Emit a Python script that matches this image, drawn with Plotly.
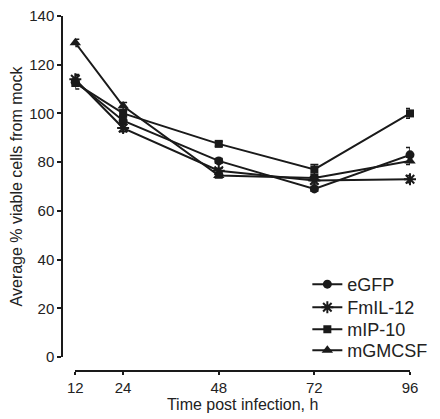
import plotly.graph_objects as go

hours = [12, 24, 48, 72, 96]
egfp = [113, 97, 80.5, 69, 83]
egfp_err = [3, 1.5, 1, 1, 3]
fmil12 = [114, 94, 76.5, 72.5, 73]
fmil12_err = [1.5, 1.5, 1, 1.5, 1.5]
mip10 = [112.5, 100, 87.5, 77, 100]
mip10_err = [1, 1, 1, 2, 2]
mgmcsf = [129, 103, 74.5, 73.5, 80.5]
mgmcsf_err = [1.5, 1.5, 1, 1, 1.5]

series = [
    ("eGFP", egfp, egfp_err, "circle", 9),
    ("FmIL-12", fmil12, fmil12_err, "asterisk-open", 10),
    ("mIP-10", mip10, mip10_err, "square", 8),
    ("mGMCSF", mgmcsf, mgmcsf_err, "triangle-up", 10),
]
legend_ids = ["legend", "legend2", "legend3", "legend4"]
legend_y = [0.2958, 0.2310, 0.1690, 0.1099]

ink = "#1a1a1a"
fig = go.Figure()
for (name, vals, errs, sym, size), lid in zip(series, legend_ids):
    fig.add_trace(go.Scatter(
        x=hours, y=vals, name=name, mode="lines+markers",
        line=dict(color=ink, width=2),
        marker=dict(symbol=sym, size=size, color=ink, line=dict(color=ink, width=2 if "asterisk" in sym else 0)),
        error_y=dict(type="data", array=errs, visible=True, color=ink, thickness=1.5, width=4),
        cliponaxis=False, legend=lid,
    ))

font = dict(family="Liberation Sans, Arial, sans-serif", size=15, color="#222")
legend_style = dict(x=0.705, xanchor="left", yanchor="top",
                    font=dict(size=18, color="#222"), bgcolor="rgba(0,0,0,0)",
                    itemwidth=30)
fig.update_layout(
    width=432, height=411,
    margin=dict(l=54, r=12, t=8, b=48),
    paper_bgcolor="white", plot_bgcolor="white",
    font=font,
    showlegend=True,
    legend=dict(legend_style, y=legend_y[0]),
    legend2=dict(legend_style, y=legend_y[1]),
    legend3=dict(legend_style, y=legend_y[2]),
    legend4=dict(legend_style, y=legend_y[3]),
    xaxis=dict(
        domain=[14/366, 1], anchor="free", position=0, automargin=False,
        range=[12, 96], tickvals=hours, ticktext=[str(h) for h in hours],
        showline=True, linecolor=ink, linewidth=1.5, ticks="outside",
        ticklen=3, tickcolor=ink, tickwidth=1.5, showgrid=False, zeroline=False,
        ticklabeloverflow="allow", tickfont=dict(size=15),
        title=dict(text="Time post infection, h", font=dict(size=16), standoff=0),
    ),
    yaxis=dict(
        domain=[14/355, 1], anchor="free", position=0, automargin=False,
        range=[0, 140], tickvals=list(range(0, 141, 20)),
        showline=True, linecolor=ink, linewidth=1.5, ticks="outside",
        ticklen=4, tickcolor=ink, tickwidth=1.5, showgrid=False, zeroline=False,
        ticklabeloverflow="allow", tickfont=dict(size=15),
        title=dict(text="Average % viable cells from mock", font=dict(size=16), standoff=3),
    ),
)
fig.write_html("out.html")
